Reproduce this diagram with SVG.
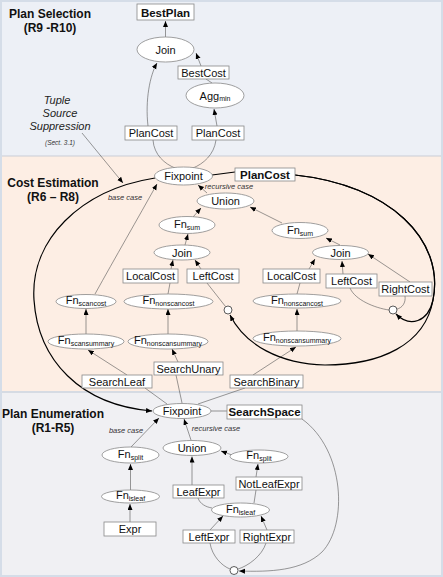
<svg xmlns="http://www.w3.org/2000/svg" width="443" height="577" viewBox="0 0 443 577">
<style>
text{font-family:"Liberation Sans",Arial,sans-serif;fill:#111}
.t{font-size:11px;text-anchor:middle}
.b{font-size:11.5px;font-weight:bold;text-anchor:middle}
.h{font-size:12px;font-weight:bold;text-anchor:middle}
.s{font-size:7px}
.lbl{font-size:7.5px;font-style:italic;text-anchor:middle;fill:#333}
.tss{font-size:11px;font-style:italic;text-anchor:middle;fill:#222}
rect.n{fill:#fff;stroke:#888;stroke-width:0.8}
ellipse.n{fill:#fff;stroke:#888;stroke-width:0.8}
circle.n{fill:#fff;stroke:#333;stroke-width:0.8}
.e{fill:none;stroke:#555;stroke-width:0.6}
.k{fill:none;stroke:#000;stroke-width:1.2}
</style>
<defs>
<marker id="a" markerUnits="userSpaceOnUse" markerWidth="7" markerHeight="6" refX="6" refY="2.5" orient="auto"><path d="M0,0 L6,2.5 L0,5 z" fill="#000"/></marker>
</defs>
<g id="panels">
<rect x="0" y="0" width="443" height="156" fill="#edf0f6"/>
<rect x="0" y="156" width="443" height="236" fill="#fdeee4"/>
<rect x="0" y="392" width="443" height="185" fill="#f0f0f3"/>
<line x1="0" y1="156" x2="443" y2="156" stroke="#c9cdd6" stroke-width="1"/>
<line x1="0" y1="392" x2="443" y2="392" stroke="#d6dbe3" stroke-width="2"/>
<rect x="1" y="1" width="441" height="575" fill="none" stroke="#d5dde8" stroke-width="2"/>
</g>
<g id="titles">
<text class="h" x="50" y="18">Plan Selection</text>
<text class="h" x="50" y="32">(R9 -R10)</text>
<text class="h" x="53" y="187">Cost Estimation</text>
<text class="h" x="53" y="201">(R6 – R8)</text>
<text class="h" x="53" y="418">Plan Enumeration</text>
<text class="h" x="53" y="432">(R1-R5)</text>
<text class="tss" x="57" y="104">Tuple</text>
<text class="tss" x="60" y="117">Source</text>
<text class="tss" x="60" y="130">Suppression</text>
<text class="lbl" x="60" y="145" style="font-size:6.5px">(Sect. 3.1)</text>
<text class="lbl" x="125" y="200">base case</text>
<text class="lbl" x="229" y="189">recursive case</text>
<text class="lbl" x="126" y="433">base case</text>
<text class="lbl" x="216" y="431">recursive case</text>
</g>
<g id="connectors">
<line class="e" x1="165.5" y1="37" x2="165.5" y2="21" marker-end="url(#a)"/>
<line class="e" x1="212" y1="83" x2="206" y2="79"/>
<line class="e" x1="201" y1="66" x2="196" y2="53" marker-end="url(#a)"/>
<line class="e" x1="217" y1="126" x2="214" y2="109" marker-end="url(#a)"/>
<path class="e" d="M148,126 C145,100 150,75 157,63" marker-end="url(#a)"/>
<path class="e" d="M153,140 C154,155 165,164 175,168"/>
<path class="e" d="M216,140 C214,155 203,164 193,168"/>
<line class="e" x1="207" y1="193" x2="198" y2="185" marker-end="url(#a)"/>
<line class="e" x1="193" y1="217" x2="201" y2="208" marker-end="url(#a)"/>
<line class="e" x1="185" y1="245" x2="188" y2="234" marker-end="url(#a)"/>
<line class="e" x1="171" y1="269" x2="173" y2="260" marker-end="url(#a)"/>
<line class="e" x1="201" y1="269" x2="195" y2="260" marker-end="url(#a)"/>
<line class="e" x1="168" y1="294" x2="170" y2="283"/>
<line class="e" x1="207" y1="283" x2="225.5" y2="306.5"/>
<line class="e" x1="282" y1="223" x2="250" y2="207" marker-end="url(#a)"/>
<line class="e" x1="340" y1="245" x2="326" y2="238" marker-end="url(#a)"/>
<line class="e" x1="309" y1="269" x2="315" y2="259" marker-end="url(#a)"/>
<line class="e" x1="343" y1="274" x2="342" y2="261" marker-end="url(#a)"/>
<line class="e" x1="410" y1="282" x2="368" y2="254" marker-end="url(#a)"/>
<line class="e" x1="297" y1="294" x2="300" y2="283"/>
<path class="e" d="M350,288 C355,300 375,308 389,310"/>
<path class="e" d="M405,296 C406,303 402,308 397,309"/>
<line class="e" x1="297" y1="331" x2="297" y2="309" marker-end="url(#a)"/>
<line class="e" x1="86" y1="334" x2="86" y2="309" marker-end="url(#a)"/>
<line class="e" x1="168" y1="334" x2="168" y2="309" marker-end="url(#a)"/>
<path class="e" d="M95,294 C115,258 138,218 157,184" marker-end="url(#a)"/>
<line class="e" x1="127" y1="375" x2="88" y2="350" marker-end="url(#a)"/>
<line class="e" x1="178" y1="362" x2="172" y2="349" marker-end="url(#a)"/>
<line class="e" x1="253" y1="375" x2="296" y2="347" marker-end="url(#a)"/>
<line class="e" x1="167" y1="404" x2="145" y2="388"/>
<line class="e" x1="182" y1="403" x2="176" y2="375"/>
<line class="e" x1="198" y1="404" x2="245" y2="388"/>
<line class="e" x1="211" y1="411" x2="227" y2="411"/>
<path class="e" d="M302,419 C345,450 348,525 322,552 C302,571 270,572 239,571" marker-end="url(#a)"/>
<line class="k" x1="212" y1="175" x2="235" y2="172"/>
<path class="k" d="M295,175 C390,185 445,240 433,300 C428,322 410,328 396,314" marker-end="url(#a)"/>
<path class="k" d="M295,175 C390,185 445,240 433,300 C425,345 380,365 325,365 C280,364 245,345 230,315" marker-end="url(#a)"/>
<path class="k" d="M155,178 C80,190 30,240 34,300 C38,360 80,405 152,411" marker-end="url(#a)"/>
<line class="e" x1="82" y1="133" x2="123" y2="183" stroke="#222" marker-end="url(#a)"/>
<line class="e" x1="131" y1="447" x2="159" y2="418" marker-end="url(#a)"/>
<line class="e" x1="130.5" y1="490" x2="130.5" y2="464" marker-end="url(#a)"/>
<line class="e" x1="130" y1="522" x2="130" y2="504" marker-end="url(#a)"/>
<line class="e" x1="191" y1="440" x2="184" y2="419" marker-end="url(#a)"/>
<line class="e" x1="232" y1="455" x2="221" y2="451" marker-end="url(#a)"/>
<line class="e" x1="256" y1="477" x2="258" y2="464" marker-end="url(#a)"/>
<line class="e" x1="254" y1="503" x2="256" y2="490"/>
<line class="e" x1="192" y1="485" x2="192" y2="456.5" marker-end="url(#a)"/>
<path class="e" d="M198,498 C200,504 206,507 212,508"/>
<line class="e" x1="210" y1="530" x2="223" y2="516" marker-end="url(#a)"/>
<line class="e" x1="267" y1="530" x2="261" y2="516" marker-end="url(#a)"/>
<path class="e" d="M210,543 C212,556 222,566 230,569"/>
<path class="e" d="M266,543 C262,556 248,566 238,569"/>
</g>
<g id="BestPlan"><rect class="n" x="137" y="4" width="57" height="16"/><text class="b" x="165.5" y="16.5">BestPlan</text></g>
<g id="JoinTop"><ellipse class="n" cx="165.5" cy="49.5" rx="28.5" ry="12.5"/><text class="t" x="165.5" y="53.5">Join</text></g>
<g id="BestCost"><rect class="n" x="178" y="66" width="51" height="13"/><text class="t" x="203.5" y="76.5">BestCost</text></g>
<g id="AggMin"><ellipse class="n" cx="215" cy="95.5" rx="29" ry="12.5"/><text class="t" x="215" y="99.5">Agg<tspan class="s" dy="1.5">min</tspan></text></g>
<g id="PlanCostTopL"><rect class="n" x="125" y="126" width="52" height="14"/><text class="t" x="151" y="137">PlanCost</text></g>
<g id="PlanCostTopR"><rect class="n" x="192" y="126" width="52" height="14"/><text class="t" x="218" y="137">PlanCost</text></g>
<g id="FixpointCost"><ellipse class="n" cx="183.5" cy="176" rx="29" ry="9"/><text class="t" x="183.5" y="180">Fixpoint</text></g>
<g id="PlanCost"><rect class="n" x="235" y="168" width="60" height="13"/><text class="b" x="265" y="178.5">PlanCost</text></g>
<g id="UnionCost"><ellipse class="n" cx="225.5" cy="201" rx="28.5" ry="8"/><text class="t" x="225.5" y="205">Union</text></g>
<g id="FnSumL"><ellipse class="n" cx="187" cy="225" rx="28" ry="8.5"/><text class="t" x="187" y="228">Fn<tspan class="s" dy="2">sum</tspan></text></g>
<g id="JoinL"><ellipse class="n" cx="182" cy="252.5" rx="28" ry="7.5"/><text class="t" x="182" y="256.5">Join</text></g>
<g id="LocalCostL"><rect class="n" x="123" y="269" width="55" height="14"/><text class="t" x="150.5" y="280">LocalCost</text></g>
<g id="LeftCostL"><rect class="n" x="187" y="269" width="52" height="14"/><text class="t" x="213" y="280">LeftCost</text></g>
<g id="FnScancost"><ellipse class="n" cx="86" cy="301.5" rx="30" ry="7"/><text class="t" x="86" y="304">Fn<tspan class="s" dy="2">scancost</tspan></text></g>
<g id="FnNonscancostL"><ellipse class="n" cx="168.5" cy="301.5" rx="44.5" ry="7.5"/><text class="t" x="168.5" y="304">Fn<tspan class="s" dy="2">nonscancost</tspan></text></g>
<g id="FnScansummary"><ellipse class="n" cx="86" cy="341.5" rx="38" ry="7.5"/><text class="t" x="86" y="344">Fn<tspan class="s" dy="2">scansummary</tspan></text></g>
<g id="FnNonscansummaryL"><ellipse class="n" cx="168" cy="341.5" rx="40" ry="7.5"/><text class="t" x="168" y="344">Fn<tspan class="s" dy="2">nonscansummary</tspan></text></g>
<g id="FnSumR"><ellipse class="n" cx="300" cy="230.5" rx="28" ry="8"/><text class="t" x="300" y="233.5">Fn<tspan class="s" dy="2">sum</tspan></text></g>
<g id="JoinR"><ellipse class="n" cx="340.5" cy="252.5" rx="28" ry="7"/><text class="t" x="340.5" y="256.5">Join</text></g>
<g id="LocalCostR"><rect class="n" x="263" y="269" width="57" height="14"/><text class="t" x="291.5" y="280">LocalCost</text></g>
<g id="LeftCostR"><rect class="n" x="326" y="274" width="51" height="14"/><text class="t" x="351.5" y="285">LeftCost</text></g>
<g id="RightCost"><rect class="n" x="379" y="282" width="53" height="14"/><text class="t" x="405.5" y="293">RightCost</text></g>
<g id="FnNonscancostR"><ellipse class="n" cx="297" cy="301" rx="44" ry="7"/><text class="t" x="297" y="303.5">Fn<tspan class="s" dy="2">nonscancost</tspan></text></g>
<g id="FnNonscansummaryR"><ellipse class="n" cx="297" cy="338.5" rx="44" ry="7.5"/><text class="t" x="297" y="341">Fn<tspan class="s" dy="2">nonscansummary</tspan></text></g>
<g id="CircleL"><circle class="n" cx="228" cy="310" r="4"/></g>
<g id="CircleR"><circle class="n" cx="393" cy="310" r="4"/></g>
<g id="SearchLeaf"><rect class="n" x="82" y="375" width="70" height="13"/><text class="t" x="117" y="385.5">SearchLeaf</text></g>
<g id="SearchUnary"><rect class="n" x="154" y="362" width="69" height="13"/><text class="t" x="188.5" y="372.5">SearchUnary</text></g>
<g id="SearchBinary"><rect class="n" x="230" y="375" width="73" height="13"/><text class="t" x="266.5" y="385.5">SearchBinary</text></g>
<g id="FixpointEnum"><ellipse class="n" cx="182" cy="411" rx="29" ry="7.5"/><text class="t" x="182" y="415">Fixpoint</text></g>
<g id="SearchSpace"><rect class="n" x="227" y="405" width="75" height="14"/><text class="b" x="264.5" y="416">SearchSpace</text></g>
<g id="FnSplitL"><ellipse class="n" cx="130.5" cy="455" rx="28.5" ry="8"/><text class="t" x="130.5" y="458">Fn<tspan class="s" dy="2">split</tspan></text></g>
<g id="FnIsleafL"><ellipse class="n" cx="130.5" cy="496.5" rx="29" ry="6.5"/><text class="t" x="130.5" y="499">Fn<tspan class="s" dy="2">isleaf</tspan></text></g>
<g id="Expr"><rect class="n" x="104" y="522" width="52" height="14"/><text class="t" x="130" y="533">Expr</text></g>
<g id="UnionEnum"><ellipse class="n" cx="192" cy="448" rx="29" ry="7.5"/><text class="t" x="192" y="452">Union</text></g>
<g id="FnSplitR"><ellipse class="n" cx="259" cy="456.5" rx="29" ry="6.5"/><text class="t" x="259" y="459">Fn<tspan class="s" dy="2">split</tspan></text></g>
<g id="NotLeafExpr"><rect class="n" x="236" y="477" width="66" height="13"/><text class="t" x="269" y="487.5">NotLeafExpr</text></g>
<g id="LeafExpr"><rect class="n" x="173" y="485" width="51" height="13"/><text class="t" x="198.5" y="495.5">LeafExpr</text></g>
<g id="FnIsleafR"><ellipse class="n" cx="240.5" cy="510" rx="29" ry="7"/><text class="t" x="240.5" y="512.5">Fn<tspan class="s" dy="2">isleaf</tspan></text></g>
<g id="LeftExpr"><rect class="n" x="183" y="530" width="52" height="13"/><text class="t" x="209" y="540.5">LeftExpr</text></g>
<g id="RightExpr"><rect class="n" x="240" y="530" width="54" height="13"/><text class="t" x="267" y="540.5">RightExpr</text></g>
<g id="CircleBottom"><circle class="n" cx="234" cy="570.5" r="4"/></g>
</svg>
